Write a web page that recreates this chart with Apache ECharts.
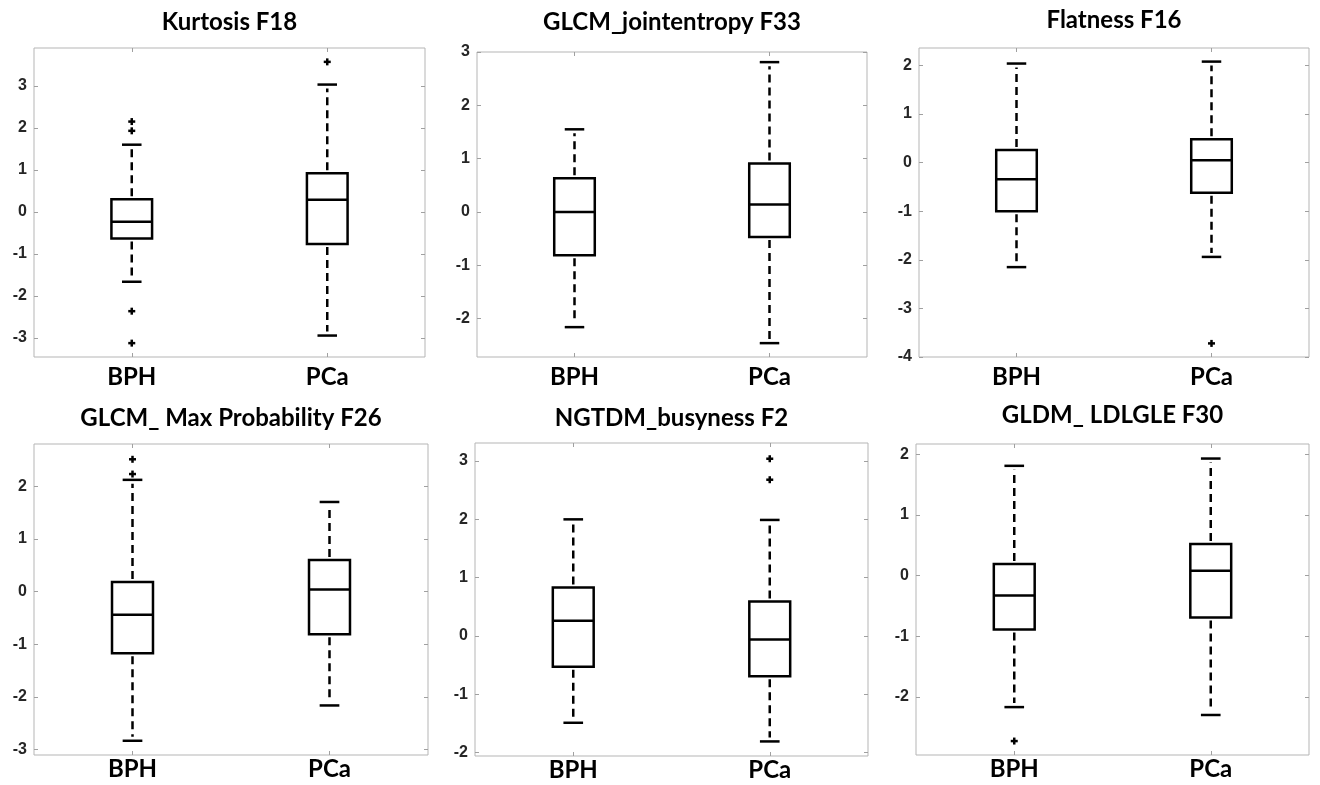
<!DOCTYPE html>
<html>
<head>
<meta charset="utf-8">
<script src="https://cdn.jsdelivr.net/npm/echarts@6/dist/echarts.min.js"></script>
<style>
  html, body { margin: 0; padding: 0; background: #fff; }
  #chart { width: 1320px; height: 785px; }
</style>
</head>
<body>
<div id="chart"></div>
<script>
// ---------- data ----------
const categories = ['BPH', 'PCa'];
const titles = ['Kurtosis F18', 'GLCM_jointentropy F33', 'Flatness F16',
                'GLCM_ Max Probability F26', 'NGTDM_busyness F2', 'GLDM_ LDLGLE F30'];

// [lower whisker, Q1, median, Q3, upper whisker]
const kurtosisBPH = [-1.66, -0.63, -0.23, 0.30, 1.60];
const kurtosisPCa = [-2.94, -0.76, 0.29, 0.92, 3.03];
const kurtosisOutBPH = [2.15, 1.93, -2.36, -3.12];
const kurtosisOutPCa = [3.57];

const jointentropyBPH = [-2.16, -0.81, 0.00, 0.63, 1.55];
const jointentropyPCa = [-2.46, -0.47, 0.14, 0.91, 2.81];
const jointentropyOutBPH = [];
const jointentropyOutPCa = [];

const flatnessBPH = [-2.15, -1.00, -0.34, 0.26, 2.04];
const flatnessPCa = [-1.94, -0.62, 0.05, 0.48, 2.08];
const flatnessOutBPH = [];
const flatnessOutPCa = [-3.72];

const maxProbBPH = [-2.83, -1.17, -0.44, 0.18, 2.12];
const maxProbPCa = [-2.16, -0.81, 0.04, 0.60, 1.70];
const maxProbOutBPH = [2.51, 2.23];
const maxProbOutPCa = [];

const busynessBPH = [-1.49, -0.53, 0.26, 0.83, 2.00];
const busynessPCa = [-1.81, -0.69, -0.06, 0.59, 1.99];
const busynessOutBPH = [];
const busynessOutPCa = [3.04, 2.68];

const ldlgleBPH = [-2.17, -0.89, -0.33, 0.19, 1.81];
const ldlglePCa = [-2.30, -0.69, 0.08, 0.52, 1.93];
const ldlgleOutBPH = [-2.73];
const ldlgleOutPCa = [];

// y-axis ranges and tick labels
const yRanges = [[-3.45, 3.9], [-2.72, 3.0], [-4, 2.36], [-3.1, 2.8], [-2.06, 3.31], [-2.96, 2.17]];
const yTicks = [
  [-3, -2, -1, 0, 1, 2, 3],
  [-2, -1, 0, 1, 2, 3],
  [-4, -3, -2, -1, 0, 1, 2],
  [-3, -2, -1, 0, 1, 2],
  [-2, -1, 0, 1, 2, 3],
  [-2, -1, 0, 1, 2]
];

const panels = [
  { box: [kurtosisBPH, kurtosisPCa], out: [kurtosisOutBPH, kurtosisOutPCa] },
  { box: [jointentropyBPH, jointentropyPCa], out: [jointentropyOutBPH, jointentropyOutPCa] },
  { box: [flatnessBPH, flatnessPCa], out: [flatnessOutBPH, flatnessOutPCa] },
  { box: [maxProbBPH, maxProbPCa], out: [maxProbOutBPH, maxProbOutPCa] },
  { box: [busynessBPH, busynessPCa], out: [busynessOutBPH, busynessOutPCa] },
  { box: [ldlgleBPH, ldlglePCa], out: [ldlgleOutBPH, ldlgleOutPCa] }
];

// ---------- layout / style ----------
const gridLayout = [
  { left: 34, top: 48, width: 391, height: 309, titleGap: 14, labelMargin: 8 },
  { left: 477, top: 52, width: 390, height: 305, titleGap: 18, labelMargin: 8 },
  { left: 919, top: 48, width: 390, height: 309, titleGap: 16, labelMargin: 8 },
  { left: 34, top: 444, width: 394, height: 311, titleGap: 14, labelMargin: 2 },
  { left: 475, top: 443, width: 393, height: 313, titleGap: 13, labelMargin: 2 },
  { left: 916, top: 444, width: 393, height: 311, titleGap: 17, labelMargin: 2 }
];

const LW = 2.5;
const BORDER = '#b5b5b5';
const TICKCOL = '#a0a0a0';

function renderBox(params, api) {
  const x = api.value(0);
  const pLow = api.coord([x, api.value(1)]);
  const pQ1 = api.coord([x, api.value(2)]);
  const pMed = api.coord([x, api.value(3)]);
  const pQ3 = api.coord([x, api.value(4)]);
  const pHigh = api.coord([x, api.value(5)]);
  const band = api.size([1, 0])[0];
  const hw = band * 0.104;
  const cw = band * 0.05;
  const cx = pMed[0];
  const solid = { stroke: '#000', lineWidth: LW, fill: null };
  const dashed = { stroke: '#000', lineWidth: LW, lineDash: [8, 5], fill: null };
  return {
    type: 'group',
    children: [
      { type: 'line', shape: { x1: cx, y1: pQ3[1] - 3, x2: cx, y2: pHigh[1] + 4 }, style: dashed },
      { type: 'line', shape: { x1: cx, y1: pQ1[1] + 3, x2: cx, y2: pLow[1] - 4 }, style: dashed },
      { type: 'line', shape: { x1: cx - cw, y1: pHigh[1], x2: cx + cw, y2: pHigh[1] }, style: solid },
      { type: 'line', shape: { x1: cx - cw, y1: pLow[1], x2: cx + cw, y2: pLow[1] }, style: solid },
      { type: 'rect', shape: { x: cx - hw, y: pQ3[1], width: 2 * hw, height: pQ1[1] - pQ3[1] }, style: solid },
      { type: 'line', shape: { x1: cx - hw, y1: pMed[1], x2: cx + hw, y2: pMed[1] }, style: solid }
    ]
  };
}

function renderPlus(params, api) {
  const p = api.coord([api.value(0), api.value(1)]);
  const s = 3.5;
  const st = { stroke: '#000', lineWidth: 2.5 };
  return {
    type: 'group',
    children: [
      { type: 'line', shape: { x1: p[0] - s, y1: p[1], x2: p[0] + s, y2: p[1] }, style: st },
      { type: 'line', shape: { x1: p[0], y1: p[1] - s, x2: p[0], y2: p[1] + s }, style: st }
    ]
  };
}

const grid = [], xAxis = [], yAxis = [], series = [];
panels.forEach((pn, i) => {
  const g = gridLayout[i];
  grid.push({ left: g.left, top: g.top, width: g.width, height: g.height,
              show: true, borderColor: BORDER, borderWidth: 1, backgroundColor: '#fff' });
  // bottom x axis
  xAxis.push({
    type: 'category', gridIndex: i, data: categories, position: 'bottom',
    axisLine: { show: false, onZero: false },
    axisTick: { show: true, inside: true, alignWithLabel: true, length: 4, lineStyle: { color: TICKCOL } },
    axisLabel: { color: '#000', fontFamily: 'Lato', fontWeight: 'bold', fontSize: 24, margin: g.labelMargin },
    splitLine: { show: false }
  });
  // top x axis (mirrored ticks + title)
  xAxis.push({
    type: 'category', gridIndex: i, data: categories, position: 'top',
    name: titles[i], nameLocation: 'middle', nameGap: g.titleGap,
    nameTextStyle: { color: '#000', fontFamily: 'Lato', fontWeight: 'bold', fontSize: 24 },
    axisLine: { show: false, onZero: false },
    axisTick: { show: true, inside: true, alignWithLabel: true, length: 4, lineStyle: { color: TICKCOL } },
    axisLabel: { show: false },
    splitLine: { show: false }
  });
  const yBase = {
    type: 'value', gridIndex: i, min: yRanges[i][0], max: yRanges[i][1],
    axisLine: { show: false, onZero: false },
    splitLine: { show: false },
    axisTick: { show: true, inside: true, length: 4, lineStyle: { color: TICKCOL }, customValues: yTicks[i] }
  };
  yAxis.push(Object.assign({}, yBase, {
    position: 'left',
    axisLabel: { show: true, customValues: yTicks[i], color: '#262626', fontFamily: 'Liberation Sans',
                 fontWeight: 'bold', fontSize: 16, margin: 7 }
  }));
  yAxis.push(Object.assign({}, yBase, {
    position: 'right',
    axisLabel: { show: false, customValues: yTicks[i] }
  }));

  const boxData = pn.box.map((b, k) => [k, b[0], b[1], b[2], b[3], b[4]]);
  series.push({
    type: 'custom', xAxisIndex: 2 * i, yAxisIndex: 2 * i,
    renderItem: renderBox, encode: { x: 0, y: [1, 2, 3, 4, 5] },
    data: boxData, silent: true, animation: false
  });
  const outData = [];
  pn.out.forEach((arr, k) => arr.forEach(v => outData.push([k, v])));
  series.push({
    type: 'custom', xAxisIndex: 2 * i, yAxisIndex: 2 * i,
    renderItem: renderPlus, encode: { x: 0, y: 1 },
    data: outData, silent: true, animation: false
  });
});

const chart = echarts.init(document.getElementById('chart'), null, { renderer: 'canvas' });
chart.setOption({
  backgroundColor: '#fff',
  animation: false,
  grid, xAxis, yAxis, series
});
</script>
</body>
</html>
